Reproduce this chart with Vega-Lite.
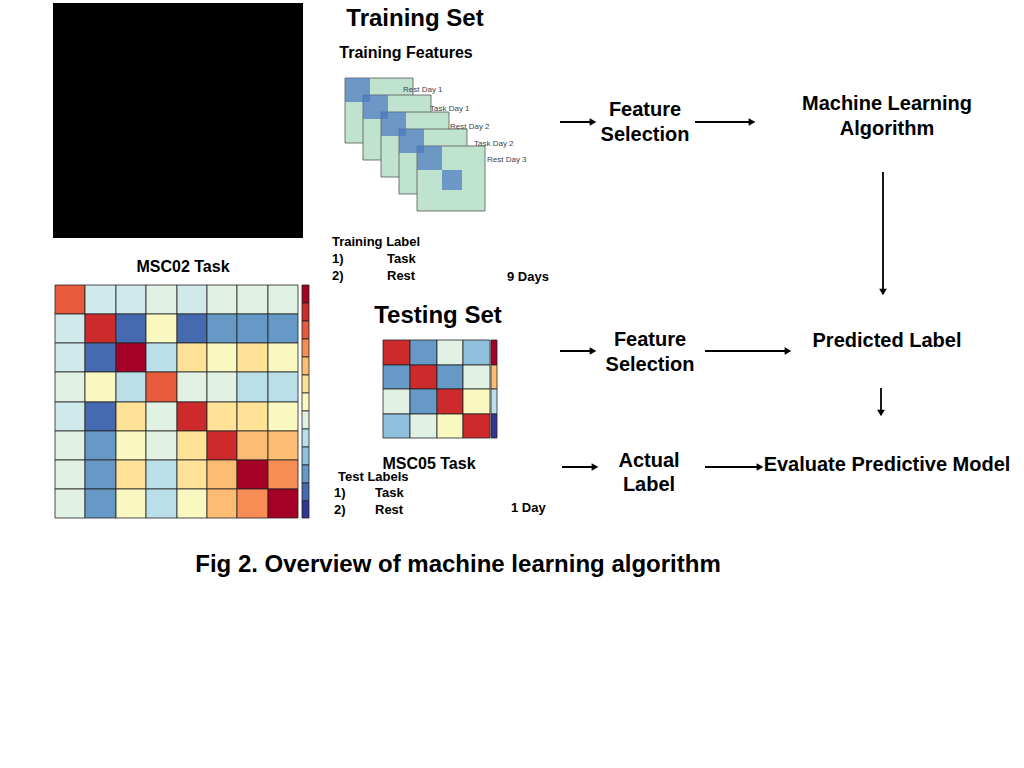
{
"$schema":"https://vega.github.io/schema/vega-lite/v6.json",
"width":1024,"height":768,"padding":0,
"autosize":{"type":"fit","contains":"padding"},
"background":"white",
"config":{"view":{"stroke":null},"text":{"font":"Liberation Sans"}},
"datasets":{
"panel":[{"x":53,"x2":303,"y":3,"y2":238}],
"big":[
{"x":55,"x2":85,"y":285,"y2":314,"v":0.6},{"x":85,"x2":116,"y":285,"y2":314,"v":0.05},{"x":116,"x2":146,"y":285,"y2":314,"v":0.05},{"x":146,"x2":177,"y":285,"y2":314,"v":0.1},{"x":177,"x2":207,"y":285,"y2":314,"v":0.05},{"x":207,"x2":237,"y":285,"y2":314,"v":0.1},{"x":237,"x2":268,"y":285,"y2":314,"v":0.1},{"x":268,"x2":298,"y":285,"y2":314,"v":0.1},
{"x":55,"x2":85,"y":314,"y2":343,"v":0.05},{"x":85,"x2":116,"y":314,"y2":343,"v":0.7},{"x":116,"x2":146,"y":314,"y2":343,"v":-0.3},{"x":146,"x2":177,"y":314,"y2":343,"v":0.2},{"x":177,"x2":207,"y":314,"y2":343,"v":-0.3},{"x":207,"x2":237,"y":314,"y2":343,"v":-0.2},{"x":237,"x2":268,"y":314,"y2":343,"v":-0.2},{"x":268,"x2":298,"y":314,"y2":343,"v":-0.2},
{"x":55,"x2":85,"y":343,"y2":372,"v":0.05},{"x":85,"x2":116,"y":343,"y2":372,"v":-0.3},{"x":116,"x2":146,"y":343,"y2":372,"v":0.8},{"x":146,"x2":177,"y":343,"y2":372,"v":0.0},{"x":177,"x2":207,"y":343,"y2":372,"v":0.3},{"x":207,"x2":237,"y":343,"y2":372,"v":0.2},{"x":237,"x2":268,"y":343,"y2":372,"v":0.3},{"x":268,"x2":298,"y":343,"y2":372,"v":0.2},
{"x":55,"x2":85,"y":372,"y2":402,"v":0.1},{"x":85,"x2":116,"y":372,"y2":402,"v":0.2},{"x":116,"x2":146,"y":372,"y2":402,"v":0.0},{"x":146,"x2":177,"y":372,"y2":402,"v":0.6},{"x":177,"x2":207,"y":372,"y2":402,"v":0.1},{"x":207,"x2":237,"y":372,"y2":402,"v":0.1},{"x":237,"x2":268,"y":372,"y2":402,"v":0.0},{"x":268,"x2":298,"y":372,"y2":402,"v":0.0},
{"x":55,"x2":85,"y":402,"y2":431,"v":0.05},{"x":85,"x2":116,"y":402,"y2":431,"v":-0.3},{"x":116,"x2":146,"y":402,"y2":431,"v":0.3},{"x":146,"x2":177,"y":402,"y2":431,"v":0.1},{"x":177,"x2":207,"y":402,"y2":431,"v":0.7},{"x":207,"x2":237,"y":402,"y2":431,"v":0.3},{"x":237,"x2":268,"y":402,"y2":431,"v":0.3},{"x":268,"x2":298,"y":402,"y2":431,"v":0.2},
{"x":55,"x2":85,"y":431,"y2":460,"v":0.1},{"x":85,"x2":116,"y":431,"y2":460,"v":-0.2},{"x":116,"x2":146,"y":431,"y2":460,"v":0.2},{"x":146,"x2":177,"y":431,"y2":460,"v":0.1},{"x":177,"x2":207,"y":431,"y2":460,"v":0.3},{"x":207,"x2":237,"y":431,"y2":460,"v":0.7},{"x":237,"x2":268,"y":431,"y2":460,"v":0.4},{"x":268,"x2":298,"y":431,"y2":460,"v":0.4},
{"x":55,"x2":85,"y":460,"y2":489,"v":0.1},{"x":85,"x2":116,"y":460,"y2":489,"v":-0.2},{"x":116,"x2":146,"y":460,"y2":489,"v":0.3},{"x":146,"x2":177,"y":460,"y2":489,"v":0.0},{"x":177,"x2":207,"y":460,"y2":489,"v":0.3},{"x":207,"x2":237,"y":460,"y2":489,"v":0.4},{"x":237,"x2":268,"y":460,"y2":489,"v":0.8},{"x":268,"x2":298,"y":460,"y2":489,"v":0.5},
{"x":55,"x2":85,"y":489,"y2":518,"v":0.1},{"x":85,"x2":116,"y":489,"y2":518,"v":-0.2},{"x":116,"x2":146,"y":489,"y2":518,"v":0.2},{"x":146,"x2":177,"y":489,"y2":518,"v":0.0},{"x":177,"x2":207,"y":489,"y2":518,"v":0.2},{"x":207,"x2":237,"y":489,"y2":518,"v":0.4},{"x":237,"x2":268,"y":489,"y2":518,"v":0.5},{"x":268,"x2":298,"y":489,"y2":518,"v":0.8},
{"x":302,"x2":309,"y":285,"y2":303,"v":0.8},{"x":302,"x2":309,"y":303,"y2":321,"v":0.7},{"x":302,"x2":309,"y":321,"y2":339,"v":0.6},{"x":302,"x2":309,"y":339,"y2":357,"v":0.5},{"x":302,"x2":309,"y":357,"y2":375,"v":0.4},{"x":302,"x2":309,"y":375,"y2":393,"v":0.3},{"x":302,"x2":309,"y":393,"y2":411,"v":0.2},{"x":302,"x2":309,"y":411,"y2":429,"v":0.1},{"x":302,"x2":309,"y":429,"y2":447,"v":0.0},{"x":302,"x2":309,"y":447,"y2":465,"v":-0.1},{"x":302,"x2":309,"y":465,"y2":483,"v":-0.2},{"x":302,"x2":309,"y":483,"y2":501,"v":-0.3},{"x":302,"x2":309,"y":501,"y2":518,"v":-0.4},
{"x":383,"x2":410,"y":340,"y2":365,"v":0.7},{"x":410,"x2":437,"y":340,"y2":365,"v":-0.2},{"x":437,"x2":463,"y":340,"y2":365,"v":0.1},{"x":463,"x2":490,"y":340,"y2":365,"v":-0.1},
{"x":383,"x2":410,"y":365,"y2":389,"v":-0.2},{"x":410,"x2":437,"y":365,"y2":389,"v":0.7},{"x":437,"x2":463,"y":365,"y2":389,"v":-0.2},{"x":463,"x2":490,"y":365,"y2":389,"v":0.1},
{"x":383,"x2":410,"y":389,"y2":414,"v":0.1},{"x":410,"x2":437,"y":389,"y2":414,"v":-0.2},{"x":437,"x2":463,"y":389,"y2":414,"v":0.7},{"x":463,"x2":490,"y":389,"y2":414,"v":0.2},
{"x":383,"x2":410,"y":414,"y2":438,"v":-0.1},{"x":410,"x2":437,"y":414,"y2":438,"v":0.1},{"x":437,"x2":463,"y":414,"y2":438,"v":0.2},{"x":463,"x2":490,"y":414,"y2":438,"v":0.7},
{"x":491,"x2":497,"y":340,"y2":365,"v":0.8},{"x":491,"x2":497,"y":365,"y2":389,"v":0.4},{"x":491,"x2":497,"y":389,"y2":414,"v":0.0},{"x":491,"x2":497,"y":414,"y2":438,"v":-0.4}
],
"frames":[{"x":345,"x2":413,"y":78,"y2":143},{"x":363,"x2":431,"y":95,"y2":160},{"x":381,"x2":449,"y":112,"y2":177},{"x":399,"x2":467,"y":129,"y2":194},{"x":417,"x2":485,"y":146,"y2":211}],
"frameDiag":[{"x":345,"x2":370,"y":78,"y2":102},{"x":363,"x2":388,"y":95,"y2":119},{"x":381,"x2":406,"y":112,"y2":136},{"x":399,"x2":424,"y":129,"y2":153},{"x":417,"x2":442,"y":146,"y2":170},{"x":442,"x2":462,"y":170,"y2":190}],
"arrows":[
{"x":560,"y":122,"x2":593,"y2":122,"dir":"r"},{"x":695,"y":122,"x2":752,"y2":122,"dir":"r"},
{"x":883,"y":172,"x2":883,"y2":292,"dir":"d"},{"x":560,"y":351,"x2":593,"y2":351,"dir":"r"},
{"x":705,"y":351,"x2":788,"y2":351,"dir":"r"},{"x":881,"y":388,"x2":881,"y2":413,"dir":"d"},
{"x":562,"y":467,"x2":595,"y2":467,"dir":"r"},{"x":705,"y":467,"x2":760,"y2":467,"dir":"r"}],
"headings":[{"t":"Training Set","x":415,"y":19},{"t":"Testing Set","x":438,"y":316},{"t":"Fig 2. Overview of machine learning algorithm","x":458,"y":565}],
"medium":[{"t":"Feature","x":645,"y":110},{"t":"Selection","x":645,"y":135},{"t":"Machine Learning","x":887,"y":104},{"t":"Algorithm","x":887,"y":129},{"t":"Feature","x":650,"y":340},{"t":"Selection","x":650,"y":365},{"t":"Predicted Label","x":887,"y":341},{"t":"Actual","x":649,"y":461},{"t":"Label","x":649,"y":485},{"t":"Evaluate Predictive Model","x":887,"y":465}],
"sub":[{"t":"Training Features","x":406,"y":53},{"t":"MSC02 Task","x":183,"y":267},{"t":"MSC05 Task","x":429,"y":464}],
"small":[{"t":"Training Label","x":332,"y":242},{"t":"1)","x":332,"y":259},{"t":"Task","x":387,"y":259},{"t":"2)","x":332,"y":276},{"t":"Rest","x":387,"y":276},{"t":"9 Days","x":507,"y":277},{"t":"Test Labels","x":338,"y":477},{"t":"1)","x":334,"y":493},{"t":"Task","x":375,"y":493},{"t":"2)","x":334,"y":510},{"t":"Rest","x":375,"y":510},{"t":"1 Day","x":511,"y":508}],
"tiny":[{"t":"Rest Day 1","x":403,"y":90},{"t":"Task Day 1","x":430,"y":109},{"t":"Rest Day 2","x":450,"y":127},{"t":"Task Day 2","x":474,"y":144},{"t":"Rest Day 3","x":487,"y":160}]
},
"encoding":{
"x":{"field":"x","type":"quantitative","scale":{"domain":[0,1024],"nice":false,"zero":false},"axis":null},
"y":{"field":"y","type":"quantitative","scale":{"domain":[0,768],"nice":false,"zero":false,"reverse":true},"axis":null}
},
"layer":[
{"data":{"name":"panel"},"mark":{"type":"rect","color":"black"},"encoding":{"x2":{"field":"x2"},"y2":{"field":"y2"}}},
{"data":{"name":"big"},"mark":{"type":"rect","stroke":"#222","strokeWidth":0.8},"encoding":{"x2":{"field":"x2"},"y2":{"field":"y2"},"color":{"field":"v","type":"quantitative","scale":{"scheme":"redyellowblue","reverse":true,"domain":[-0.4,0.8]},"legend":null}}},
{"data":{"name":"frames"},"mark":{"type":"rect","fill":"#bfe3cf","stroke":"#555","strokeWidth":0.8},"encoding":{"x2":{"field":"x2"},"y2":{"field":"y2"}}},
{"data":{"name":"frameDiag"},"mark":{"type":"rect","fill":"#4a78c0","opacity":0.7},"encoding":{"x2":{"field":"x2"},"y2":{"field":"y2"}}},
{"data":{"name":"arrows"},"mark":{"type":"rule","color":"black","strokeWidth":1.8},"encoding":{"x2":{"field":"x2"},"y2":{"field":"y2"}}},
{"data":{"name":"arrows"},"mark":{"type":"point","filled":true,"color":"black","size":60,"opacity":1},"encoding":{"x":{"field":"x2","type":"quantitative"},"y":{"field":"y2","type":"quantitative"},"shape":{"field":"dir","type":"nominal","scale":{"domain":["r","d"],"range":["triangle-right","triangle-down"]},"legend":null}}},
{"data":{"name":"headings"},"mark":{"type":"text","fontSize":24,"fontWeight":"bold","align":"center","baseline":"middle"},"encoding":{"text":{"field":"t"}}},
{"data":{"name":"medium"},"mark":{"type":"text","fontSize":20,"fontWeight":"bold","align":"center","baseline":"middle"},"encoding":{"text":{"field":"t"}}},
{"data":{"name":"sub"},"mark":{"type":"text","fontSize":16,"fontWeight":"bold","align":"center","baseline":"middle"},"encoding":{"text":{"field":"t"}}},
{"data":{"name":"small"},"mark":{"type":"text","fontSize":13,"fontWeight":"bold","align":"left","baseline":"middle"},"encoding":{"text":{"field":"t"}}},
{"data":{"name":"tiny"},"mark":{"type":"text","fontSize":8,"align":"left","baseline":"middle","color":"#444"},"encoding":{"text":{"field":"t"}}}
]
}
